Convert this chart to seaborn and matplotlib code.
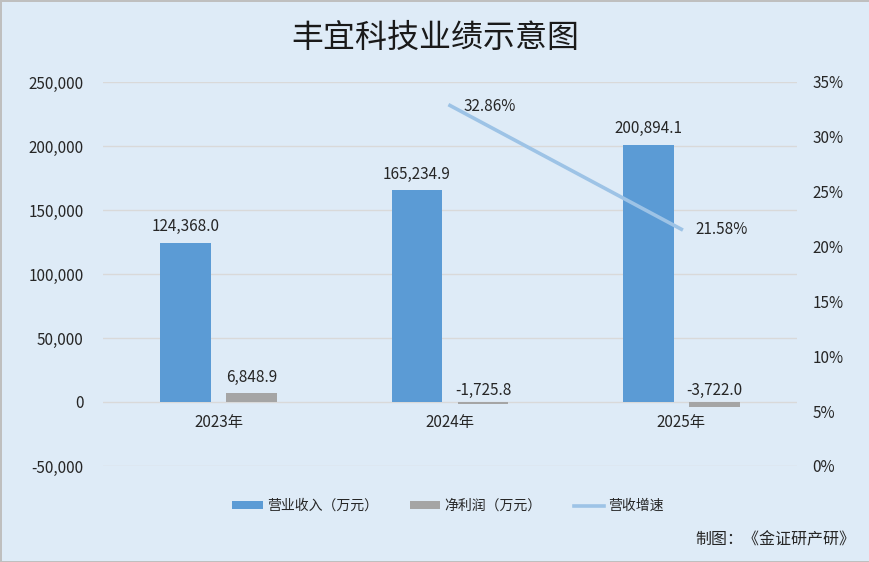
import numpy as np
import pandas as pd
import matplotlib
matplotlib.use('Agg')
import matplotlib.pyplot as plt
import seaborn as sns
from matplotlib.patches import Patch
from matplotlib.lines import Line2D
from matplotlib.ticker import FuncFormatter, MultipleLocator

# Data
years = ['2023年', '2024年', '2025年']
revenue = [124368.0, 165234.9, 200894.1]
net_profit = [6848.9, -1725.8, -3722.0]
growth = [np.nan, 32.86, 21.58]  # %

series_names = ['营业收入（万元）', '净利润（万元）']
growth_name = '营收增速'
title = '丰宜科技业绩示意图'
source = '制图：《金证研产研》'

bg = '#DEEBF7'
bar_colors = ['#5B9BD5', '#A5A5A5']
line_color = '#9DC3E6'
text_color = '#262626'

plt.rcParams['font.family'] = ['Noto Sans CJK SC', 'DejaVu Sans']
plt.rcParams['text.color'] = text_color

df = pd.DataFrame({
    '年份': years * 2,
    '指标': [series_names[0]] * len(years) + [series_names[1]] * len(years),
    '数值': revenue + net_profit,
})

fig = plt.figure(figsize=(8.7, 5.62), dpi=100, facecolor=bg)
fig.patch.set_edgecolor('#BFBFBF')
fig.patch.set_linewidth(2)

ax = fig.add_axes([103 / 870, 1 - 466 / 562, 694 / 870, 384 / 562])
ax.patch.set_visible(False)

sns.barplot(data=df, x='年份', y='数值', hue='指标', palette=bar_colors,
            width=0.57, gap=0.23, saturation=1, legend=False, ax=ax)

ax.set_ylim(-50000, 250000)
ax.yaxis.set_major_locator(MultipleLocator(50000))
ax.yaxis.set_major_formatter(FuncFormatter(lambda v, p: f'{v:,.0f}'))
ax.yaxis.grid(True, color='#D9D9D9', linewidth=1)
ax.set_axisbelow(True)
ax.set_xlabel('')
ax.set_ylabel('')
ax.spines['bottom'].set_position(('data', 0))
for s in ax.spines.values():
    s.set_visible(False)
ax.tick_params(axis='y', length=0, pad=14, labelsize=11, labelcolor=text_color)
ax.tick_params(axis='x', length=0, pad=9, labelsize=11, labelcolor=text_color)

# value labels on the bars (negatives sit just above the zero line)
for cont in ax.containers:
    for p in cont:
        val = p.get_y() + p.get_height()
        x = p.get_x() + p.get_width() / 2
        if val >= 0:
            ax.annotate(f'{val:,.1f}', (x, val), xytext=(0, 11.5), textcoords='offset points',
                        ha='center', va='center', fontsize=11)
        else:
            ax.annotate(f'{val:,.1f}', (x, 0), xytext=(0, 8.5), textcoords='offset points',
                        ha='center', va='center', fontsize=11)

# growth line on right axis
ax2 = ax.twinx()
xs = list(range(len(years)))
g = pd.DataFrame({'x': xs, 'g': [v / 100 for v in growth]}).dropna()
sns.lineplot(data=g, x='x', y='g', color=line_color, linewidth=2.6, ax=ax2)
ax2.set_ylim(0, 0.35)
ax2.yaxis.set_major_locator(MultipleLocator(0.05))
ax2.yaxis.set_major_formatter(FuncFormatter(lambda v, p: f'{v * 100:.0f}%'))
ax2.set_ylabel('')
ax2.set_xlabel('')
for s in ax2.spines.values():
    s.set_visible(False)
ax2.tick_params(axis='y', length=0, pad=11, labelsize=11, labelcolor=text_color)
for xi, gv in zip(g['x'], g['g']):
    ax2.annotate(f'{gv * 100:.2f}%', (xi, gv), xytext=(10, -0.5), textcoords='offset points',
                 ha='left', va='center', fontsize=11)

# the line plot autoscaled the shared x; restore category limits
ax.set_xlim(-0.5, len(years) - 0.5)

fig.text(0.5, 1 - 38 / 562, title, ha='center', va='center', fontsize=23, color='#1a1a1a')

handles = [Patch(facecolor=bar_colors[0]), Patch(facecolor=bar_colors[1]),
           Line2D([0], [0], color=line_color, linewidth=2.6)]
fig.legend(handles, series_names + [growth_name], loc='center',
           bbox_to_anchor=(448 / 870, 1 - 506 / 562), ncol=3, frameon=False,
           fontsize=10, handlelength=2.2, handleheight=0.5, handletextpad=0.3,
           columnspacing=2.3)

fig.text(855 / 870, 1 - 540 / 562, source, ha='right', va='center', fontsize=11.5)

fig.savefig('out.png', dpi=100, facecolor=fig.get_facecolor(), edgecolor=fig.get_edgecolor())
